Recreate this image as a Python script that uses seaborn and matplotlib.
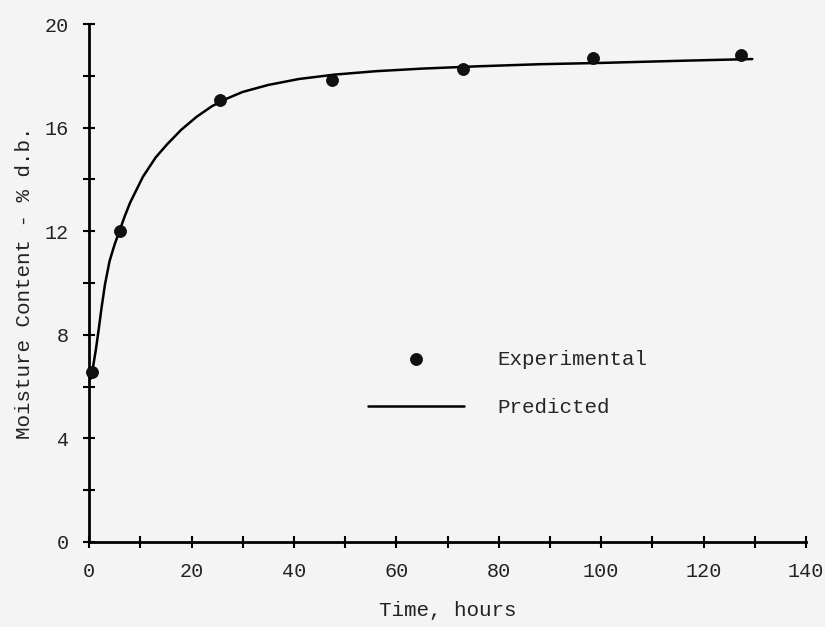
import numpy as np
import pandas as pd
import matplotlib
matplotlib.use("Agg")
import matplotlib.pyplot as plt
from matplotlib.ticker import MultipleLocator
import seaborn as sns

# experimental points
exp_time = [0.6, 6.0, 25.5, 47.5, 73.0, 98.4, 127.3]
exp_mc = [6.55, 12.0, 17.07, 17.84, 18.26, 18.7, 18.8]

# predicted curve, read at points along the drawn line
pred_time = [0.3, 0.8, 1.3, 1.8, 2.4, 3.1, 4.0, 5.0, 6.0, 7.0, 8.0, 10.5, 13.0, 15.2,
             18.0, 21.0, 24.0, 27.0, 30.0, 35.0, 41.0, 48.0, 56.0, 65.0, 76.0, 88.0,
             100.0, 115.0, 129.5]
pred_mc = [6.3, 6.8, 7.4, 8.1, 9.0, 9.95, 10.85, 11.5, 12.05, 12.6, 13.1, 14.1, 14.85, 15.35,
           15.92, 16.42, 16.83, 17.13, 17.38, 17.65, 17.88, 18.05, 18.18, 18.28, 18.37, 18.45,
           18.5, 18.58, 18.65]

exp_df = pd.DataFrame({"time": exp_time, "mc": exp_mc})
pred_df = pd.DataFrame({"time": pred_time, "mc": pred_mc})

sns.set_style("ticks")
plt.rcParams["font.family"] = ["Liberation Mono", "DejaVu Sans Mono"]
bg = "#f4f4f4"

fig = plt.figure(figsize=(8.25, 6.27), dpi=100, facecolor=bg)
ax = fig.add_axes([0.108, 0.1356, 0.869, 0.826], facecolor=bg)

sns.lineplot(data=pred_df, x="time", y="mc", ax=ax, color="black", linewidth=1.8,
             sort=False, label="Predicted")
sns.scatterplot(data=exp_df, x="time", y="mc", ax=ax, color="#111111", s=75,
                edgecolor="black", linewidth=0.5, label="Experimental", clip_on=False, zorder=3)

ax.set_xlim(0, 140)
ax.set_ylim(0, 20)
ax.xaxis.set_major_locator(MultipleLocator(20))
ax.xaxis.set_minor_locator(MultipleLocator(10))
ax.yaxis.set_major_locator(MultipleLocator(4))
ax.yaxis.set_minor_locator(MultipleLocator(2))
ax.tick_params(which="both", direction="inout", length=9, width=1.5, color="black",
               labelsize=14.5, pad=10, labelcolor="#222222")

sns.despine(ax=ax)
for side in ["left", "bottom"]:
    ax.spines[side].set_linewidth(2)
    ax.spines[side].set_color("black")

ax.set_xlabel("Time, hours", fontsize=15, labelpad=14, color="#222222")
ax.set_ylabel("Moisture Content - % d.b.", fontsize=15, labelpad=8, color="#222222")

handles, labels = ax.get_legend_handles_labels()
order = [labels.index("Experimental"), labels.index("Predicted")]
ax.legend([handles[i] for i in order], [labels[i] for i in order],
          loc="center left", bbox_to_anchor=(0.389, 0.306), frameon=False,
          fontsize=15, handlelength=4.6, handletextpad=1.6, labelspacing=1.4,
          borderpad=0, borderaxespad=0, markerscale=1.0)

fig.savefig("out.png", dpi=100, facecolor=bg)
